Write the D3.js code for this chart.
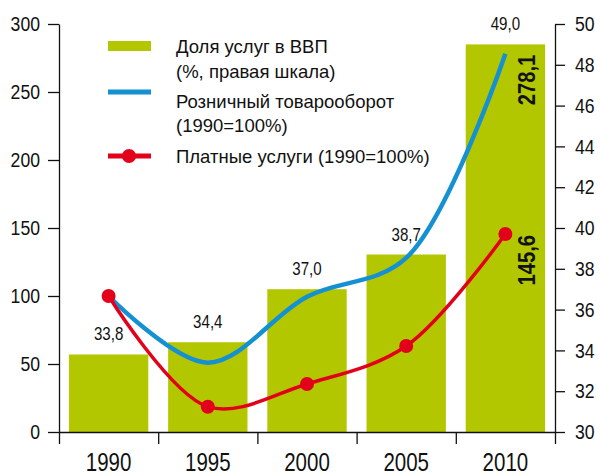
<!DOCTYPE html>
<html>
<head>
<meta charset="utf-8">
<script src="https://cdn.jsdelivr.net/npm/d3@7"></script>
<style>
  body { margin: 0; background: #fff; }
  svg { display: block; }
</style>
</head>
<body>
<script>
var w = 600;
var h = 476;

// data
var years = ["1990", "1995", "2000", "2005", "2010"];
var shareGdp = [33.8, 34.4, 37.0, 38.7, 49.0];   // % , right scale
var retail = [100, 51, 99.5, 128, 278.1];         // 1990=100%
var paid = [100, 18.6, 35.3, 63.2, 145.6];        // 1990=100%
var leftTicks = [0, 50, 100, 150, 200, 250, 300];
var rightTicks = [30, 32, 34, 36, 38, 40, 42, 44, 46, 48, 50];

var green = "#b3c700";
var blue = "#1590d2";
var red = "#e3001b";
var font = "'Liberation Sans', Arial, sans-serif";
var squeeze = 0.84; // no narrow font installed, so text is squeezed by hand

var mLeft = 59, mRight = 555, mTop = 24, mBottom = 432;

var svg = d3.select("body").append("svg")
  .attr("width", w)
  .attr("height", h)
  .attr("font-family", font);

var x = d3.scaleBand()
  .domain(years)
  .range([mLeft, mRight])
  .paddingInner(0.2)
  .paddingOuter(0.1);

// ticks sit on band borders
var xEdge = d3.scaleLinear().domain([0, years.length]).range([mLeft, mRight]);

var yL = d3.scaleLinear().domain([0, 300]).range([mBottom, mTop]);
var yR = d3.scaleLinear().domain([30, 50]).range([mBottom, mTop]);

function cx(i) { return x(years[i]) + x.bandwidth() / 2; }

// bars
svg.selectAll("rect.bar")
  .data(shareGdp)
  .enter()
  .append("rect")
  .attr("class", "bar")
  .attr("x", function(d, i) { return x(years[i]); })
  .attr("y", function(d) { return yR(d); })
  .attr("width", x.bandwidth())
  .attr("height", function(d) { return mBottom - yR(d); })
  .attr("fill", green);

// bar labels
svg.selectAll("text.val")
  .data(shareGdp)
  .enter()
  .append("text")
  .attr("class", "val")
  .text(function(d) { return d3.format(".1f")(d).replace(".", ","); })
  .attr("transform", function(d, i) {
    return "translate(" + cx(i) + "," + (yR(d) - 14) + ") scale(" + squeeze + ",1)";
  })
  .attr("text-anchor", "middle")
  .attr("font-size", 18)
  .attr("fill", "#111");

// axes
function styleAxis(g, size, k) {
  g.selectAll("path, line").attr("stroke", "#111").attr("stroke-width", 1.3);
  g.selectAll("text")
    .attr("font-size", size)
    .attr("fill", "#111")
    .attr("x", function() { return +d3.select(this).attr("x") / k; })
    .attr("transform", "scale(" + k + ",1)");
}

svg.append("g")
  .attr("transform", "translate(" + mLeft + ",0)")
  .call(d3.axisLeft(yL).tickValues(leftTicks).tickSize(11).tickSizeOuter(0).tickPadding(8))
  .call(styleAxis, 21, squeeze);

svg.append("g")
  .attr("transform", "translate(" + mRight + ",0)")
  .call(d3.axisRight(yR).tickValues(rightTicks).tickSize(10).tickSizeOuter(0).tickPadding(10))
  .call(styleAxis, 21, squeeze);

svg.append("g")
  .attr("transform", "translate(0," + mBottom + ")")
  .call(d3.axisBottom(xEdge).ticks(years.length).tickFormat("").tickSize(12).tickSizeOuter(0))
  .call(styleAxis, 21, 1);

var xLab = svg.append("g")
  .attr("transform", "translate(0," + mBottom + ")")
  .call(d3.axisBottom(x).tickSize(0).tickPadding(21))
  .call(styleAxis, 25, 0.82);
xLab.select(".domain").remove();

// lines
var line = function(vals) {
  return d3.line()
    .x(function(d, i) { return cx(i); })
    .y(function(d) { return yL(d); })
    .curve(d3.curveCatmullRom.alpha(0.5))(vals);
};

svg.append("path")
  .attr("d", line(retail))
  .attr("fill", "none")
  .attr("stroke", blue)
  .attr("stroke-width", 4.5);

svg.append("path")
  .attr("d", line(paid))
  .attr("fill", "none")
  .attr("stroke", red)
  .attr("stroke-width", 3.5);

svg.selectAll("circle.pt")
  .data(paid)
  .enter()
  .append("circle")
  .attr("class", "pt")
  .attr("cx", function(d, i) { return cx(i); })
  .attr("cy", function(d) { return yL(d); })
  .attr("r", 7)
  .attr("fill", red);

// vertical end labels
var last = years.length - 1;
[[retail[last], "278,1"], [paid[last], "145,6"]].forEach(function(p) {
  svg.append("text")
    .text(p[1])
    .attr("transform", "translate(535," + (yL(p[0]) + 1) + ") rotate(-90) scale(" + squeeze + ",1)")
    .attr("text-anchor", "end")
    .attr("font-weight", "bold")
    .attr("font-size", 24)
    .attr("fill", "#111");
});

// legend
var lg = svg.append("g").attr("font-size", 18.5).attr("fill", "#111");
lg.append("rect").attr("x", 108).attr("y", 41).attr("width", 43).attr("height", 10).attr("fill", green);
lg.append("text").attr("x", 176).attr("y", 53).text("Доля услуг в ВВП");
lg.append("text").attr("x", 176).attr("y", 78).text("(%, правая шкала)");
lg.append("line").attr("x1", 108).attr("x2", 151).attr("y1", 92).attr("y2", 92)
  .attr("stroke", blue).attr("stroke-width", 5);
lg.append("text").attr("x", 176).attr("y", 108).text("Розничный товарооборот");
lg.append("text").attr("x", 176).attr("y", 132).text("(1990=100%)");
lg.append("line").attr("x1", 108).attr("x2", 151).attr("y1", 156).attr("y2", 156)
  .attr("stroke", red).attr("stroke-width", 5);
lg.append("circle").attr("cx", 129).attr("cy", 156).attr("r", 7).attr("fill", red);
lg.append("text").attr("x", 176).attr("y", 163).text("Платные услуги (1990=100%)");
</script>
</body>
</html>
